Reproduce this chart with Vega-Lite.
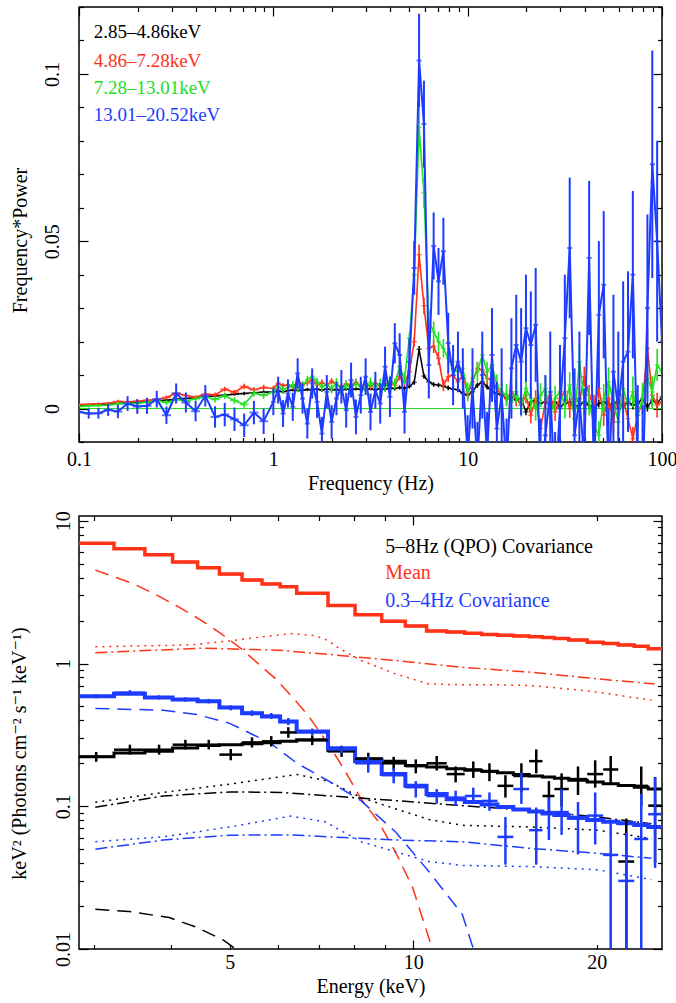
{
"$schema": "https://vega.github.io/schema/vega-lite/v6.json",
"padding": {"left": 8, "top": 5, "right": 0, "bottom": 5},
"config": {
  "font": "Liberation Serif, Times New Roman, DejaVu Serif, serif",
  "view": {"stroke": "#000000", "strokeWidth": 1.5},
  "axis": {"labelFont": "Liberation Serif, Times New Roman, DejaVu Serif, serif", "titleFont": "Liberation Serif, Times New Roman, DejaVu Serif, serif", "labelFontSize": 20, "titleFontSize": 20, "titleFontWeight": "normal", "labelColor": "#000000", "titleColor": "#000000", "tickColor": "#000000", "tickWidth": 1.2, "domain": false, "grid": false}
},
"datasets": {
"pds": [
{"f":0.1,"k":0.0010,"ke":0.0003,"r":0.0012,"re":0.0004,"g":0.0006,"ge":0.0005,"b":-0.0010,"be":0.0015},
{"f":0.1122,"k":0.0011,"ke":0.0003,"r":0.0013,"re":0.0004,"g":0.0008,"ge":0.0005,"b":-0.0015,"be":0.0015},
{"f":0.1259,"k":0.0012,"ke":0.0003,"r":0.0014,"re":0.0004,"g":0.0009,"ge":0.0005,"b":-0.0014,"be":0.0016},
{"f":0.1413,"k":0.0013,"ke":0.0003,"r":0.0016,"re":0.0004,"g":0.0010,"ge":0.0006,"b":-0.0004,"be":0.0018},
{"f":0.1585,"k":0.0015,"ke":0.0003,"r":0.0021,"re":0.0005,"g":0.0014,"ge":0.0006,"b":-0.0009,"be":0.0020},
{"f":0.1778,"k":0.0017,"ke":0.0003,"r":0.0020,"re":0.0005,"g":0.0016,"ge":0.0006,"b":0.0015,"be":0.0022},
{"f":0.1995,"k":0.0018,"ke":0.0003,"r":0.0022,"re":0.0005,"g":0.0015,"ge":0.0007,"b":0.0006,"be":0.0022},
{"f":0.2239,"k":0.0020,"ke":0.0004,"r":0.0025,"re":0.0005,"g":0.0019,"ge":0.0007,"b":0.0008,"be":0.0024},
{"f":0.2512,"k":0.0022,"ke":0.0004,"r":0.0027,"re":0.0005,"g":0.0023,"ge":0.0007,"b":0.0028,"be":0.0025},
{"f":0.2818,"k":0.0025,"ke":0.0004,"r":0.0033,"re":0.0006,"g":0.0018,"ge":0.0008,"b":-0.0020,"be":0.0026},
{"f":0.3162,"k":0.0028,"ke":0.0004,"r":0.0046,"re":0.0006,"g":0.0027,"ge":0.0008,"b":0.0045,"be":0.0030},
{"f":0.3548,"k":0.0030,"ke":0.0004,"r":0.0039,"re":0.0006,"g":0.0022,"ge":0.0008,"b":0.0018,"be":0.0030},
{"f":0.3981,"k":0.0032,"ke":0.0004,"r":0.0034,"re":0.0006,"g":0.0029,"ge":0.0009,"b":-0.0008,"be":0.0030},
{"f":0.4467,"k":0.0035,"ke":0.0004,"r":0.0043,"re":0.0007,"g":0.0035,"ge":0.0009,"b":0.0038,"be":0.0032},
{"f":0.5012,"k":0.0038,"ke":0.0005,"r":0.0041,"re":0.0007,"g":0.0027,"ge":0.0009,"b":-0.0025,"be":0.0032},
{"f":0.5623,"k":0.0040,"ke":0.0005,"r":0.0058,"re":0.0007,"g":0.0038,"ge":0.0010,"b":-0.0018,"be":0.0035},
{"f":0.6310,"k":0.0043,"ke":0.0005,"r":0.0049,"re":0.0007,"g":0.0024,"ge":0.0010,"b":-0.0032,"be":0.0035},
{"f":0.7079,"k":0.0045,"ke":0.0005,"r":0.0066,"re":0.0008,"g":0.0012,"ge":0.0010,"b":-0.0050,"be":0.0035},
{"f":0.7943,"k":0.0047,"ke":0.0005,"r":0.0056,"re":0.0008,"g":0.0046,"ge":0.0010,"b":-0.0012,"be":0.0035},
{"f":0.8913,"k":0.0049,"ke":0.0005,"r":0.0063,"re":0.0008,"g":0.0039,"ge":0.0010,"b":-0.0038,"be":0.0038},
{"f":1.000,"k":0.0050,"ke":0.0005,"r":0.0060,"re":0.0008,"g":0.0050,"ge":0.0010,"b":0.0020,"be":0.0040},
{"f":1.059,"k":0.0052,"ke":0.0005,"r":0.0076,"re":0.0008,"g":0.0066,"ge":0.0010,"b":0.0055,"be":0.0040},
{"f":1.122,"k":0.0050,"ke":0.0005,"r":0.0068,"re":0.0008,"g":0.0056,"ge":0.0011,"b":-0.0015,"be":0.0040},
{"f":1.189,"k":0.0053,"ke":0.0005,"r":0.0071,"re":0.0008,"g":0.0062,"ge":0.0011,"b":0.0045,"be":0.0042},
{"f":1.259,"k":0.0056,"ke":0.0005,"r":0.0064,"re":0.0008,"g":0.0071,"ge":0.0011,"b":0.0005,"be":0.0042},
{"f":1.334,"k":0.0054,"ke":0.0005,"r":0.0081,"re":0.0009,"g":0.0060,"ge":0.0011,"b":0.0105,"be":0.0045},
{"f":1.413,"k":0.0055,"ke":0.0005,"r":0.0072,"re":0.0009,"g":0.0068,"ge":0.0012,"b":0.0030,"be":0.0045},
{"f":1.496,"k":0.0057,"ke":0.0005,"r":0.0077,"re":0.0009,"g":0.0086,"ge":0.0012,"b":-0.0045,"be":0.0045},
{"f":1.585,"k":0.0056,"ke":0.0005,"r":0.0086,"re":0.0009,"g":0.0096,"ge":0.0012,"b":0.0075,"be":0.0045},
{"f":1.679,"k":0.0058,"ke":0.0005,"r":0.0070,"re":0.0009,"g":0.0080,"ge":0.0012,"b":0.0020,"be":0.0048},
{"f":1.778,"k":0.0055,"ke":0.0005,"r":0.0078,"re":0.0009,"g":0.0064,"ge":0.0012,"b":-0.0075,"be":0.0050},
{"f":1.884,"k":0.0059,"ke":0.0005,"r":0.0069,"re":0.0009,"g":0.0072,"ge":0.0013,"b":0.0050,"be":0.0050},
{"f":1.995,"k":0.0056,"ke":0.0005,"r":0.0082,"re":0.0009,"g":0.0059,"ge":0.0013,"b":-0.0040,"be":0.0050},
{"f":2.113,"k":0.0057,"ke":0.0005,"r":0.0070,"re":0.0009,"g":0.0078,"ge":0.0013,"b":0.0030,"be":0.0050},
{"f":2.239,"k":0.0055,"ke":0.0005,"r":0.0064,"re":0.0009,"g":0.0054,"ge":0.0013,"b":0.0065,"be":0.0050},
{"f":2.371,"k":0.0058,"ke":0.0005,"r":0.0074,"re":0.0010,"g":0.0070,"ge":0.0014,"b":-0.0005,"be":0.0052},
{"f":2.512,"k":0.0056,"ke":0.0005,"r":0.0068,"re":0.0010,"g":0.0062,"ge":0.0014,"b":0.0085,"be":0.0052},
{"f":2.661,"k":0.0059,"ke":0.0005,"r":0.0079,"re":0.0010,"g":0.0075,"ge":0.0014,"b":-0.0025,"be":0.0052},
{"f":2.818,"k":0.0057,"ke":0.0005,"r":0.0066,"re":0.0010,"g":0.0065,"ge":0.0014,"b":0.0040,"be":0.0055},
{"f":2.985,"k":0.0058,"ke":0.0005,"r":0.0074,"re":0.0010,"g":0.0058,"ge":0.0015,"b":0.0095,"be":0.0055},
{"f":3.162,"k":0.0059,"ke":0.0005,"r":0.0066,"re":0.0010,"g":0.0078,"ge":0.0015,"b":-0.0010,"be":0.0055},
{"f":3.350,"k":0.0056,"ke":0.0006,"r":0.0076,"re":0.0010,"g":0.0064,"ge":0.0015,"b":0.0055,"be":0.0055},
{"f":3.548,"k":0.0060,"ke":0.0006,"r":0.0069,"re":0.0010,"g":0.0074,"ge":0.0015,"b":0.0015,"be":0.0060},
{"f":3.758,"k":0.0058,"ke":0.0006,"r":0.0072,"re":0.0010,"g":0.0066,"ge":0.0016,"b":0.0125,"be":0.0060},
{"f":3.981,"k":0.0061,"ke":0.0006,"r":0.0080,"re":0.0011,"g":0.0082,"ge":0.0016,"b":0.0035,"be":0.0060},
{"f":4.217,"k":0.0060,"ke":0.0006,"r":0.0070,"re":0.0011,"g":0.0074,"ge":0.0016,"b":0.0195,"be":0.0060},
{"f":4.467,"k":0.0063,"ke":0.0006,"r":0.0095,"re":0.0011,"g":0.0125,"ge":0.0017,"b":0.0160,"be":0.0065},
{"f":4.732,"k":0.0061,"ke":0.0006,"r":0.0078,"re":0.0012,"g":0.0090,"ge":0.0017,"b":-0.0010,"be":0.0065},
{"f":5.012,"k":0.0066,"ke":0.0006,"r":0.0110,"re":0.0012,"g":0.0210,"ge":0.0018,"b":0.0140,"be":0.0070},
{"f":5.309,"k":0.0078,"ke":0.0007,"r":0.0200,"re":0.0015,"g":0.0400,"ge":0.0025,"b":0.0420,"be":0.0080},
{"f":5.623,"k":0.0177,"ke":0.0010,"r":0.0460,"re":0.0030,"g":0.0840,"ge":0.0060,"b":0.1040,"be":0.0140},
{"f":5.957,"k":0.0097,"ke":0.0008,"r":0.0307,"re":0.0025,"g":0.0645,"ge":0.0045,"b":0.0850,"be":0.0130},
{"f":6.310,"k":0.0080,"ke":0.0007,"r":0.0180,"re":0.0020,"g":0.0260,"ge":0.0035,"b":0.0130,"be":0.0100},
{"f":6.683,"k":0.0072,"ke":0.0007,"r":0.0186,"re":0.0020,"g":0.0230,"ge":0.0030,"b":0.0486,"be":0.0100},
{"f":7.079,"k":0.0070,"ke":0.0007,"r":0.0150,"re":0.0020,"g":0.0200,"ge":0.0030,"b":0.0380,"be":0.0100},
{"f":7.499,"k":0.0067,"ke":0.0007,"r":0.0070,"re":0.0018,"g":0.0180,"ge":0.0028,"b":0.0470,"be":0.0100},
{"f":7.943,"k":0.0062,"ke":0.0007,"r":0.0095,"re":0.0016,"g":0.0150,"ge":0.0026,"b":0.0196,"be":0.0090},
{"f":8.414,"k":0.0058,"ke":0.0007,"r":0.0100,"re":0.0016,"g":0.0120,"ge":0.0025,"b":0.0100,"be":0.0090},
{"f":8.913,"k":0.0056,"ke":0.0007,"r":0.0080,"re":0.0016,"g":0.0110,"ge":0.0025,"b":0.0140,"be":0.0090},
{"f":9.441,"k":0.0045,"ke":0.0007,"r":0.0100,"re":0.0016,"g":0.0120,"ge":0.0025,"b":0.0090,"be":0.0090},
{"f":10.00,"k":0.0040,"ke":0.0008,"r":0.0045,"re":0.0018,"g":0.0050,"ge":0.0028,"b":-0.0140,"be":0.0120},
{"f":10.59,"k":0.0050,"ke":0.0008,"r":0.0080,"re":0.0018,"g":0.0090,"ge":0.0028,"b":0.0060,"be":0.0120},
{"f":11.22,"k":0.0070,"ke":0.0008,"r":0.0120,"re":0.0019,"g":0.0110,"ge":0.0030,"b":-0.0160,"be":0.0120},
{"f":11.89,"k":0.0080,"ke":0.0008,"r":0.0115,"re":0.0019,"g":0.0160,"ge":0.0030,"b":0.0100,"be":0.0130},
{"f":12.59,"k":0.0065,"ke":0.0008,"r":0.0090,"re":0.0020,"g":0.0110,"ge":0.0030,"b":-0.0140,"be":0.0130},
{"f":13.34,"k":0.0050,"ke":0.0008,"r":0.0085,"re":0.0020,"g":0.0130,"ge":0.0030,"b":0.0160,"be":0.0140},
{"f":14.13,"k":0.0045,"ke":0.0009,"r":0.0060,"re":0.0020,"g":0.0070,"ge":0.0032,"b":-0.0060,"be":0.0140},
{"f":14.96,"k":0.0040,"ke":0.0009,"r":0.0040,"re":0.0021,"g":0.0050,"ge":0.0032,"b":0.0040,"be":0.0140},
{"f":15.85,"k":0.0030,"ke":0.0009,"r":0.0030,"re":0.0022,"g":0.0040,"ge":0.0033,"b":-0.0180,"be":0.0150},
{"f":16.79,"k":0.0035,"ke":0.0009,"r":0.0050,"re":0.0022,"g":0.0020,"ge":0.0033,"b":0.0120,"be":0.0150},
{"f":17.78,"k":0.0025,"ke":0.0009,"r":0.0030,"re":0.0023,"g":0.0050,"ge":0.0034,"b":0.0190,"be":0.0150},
{"f":18.84,"k":0.0030,"ke":0.0010,"r":0.0010,"re":0.0023,"g":0.0010,"ge":0.0034,"b":0.0140,"be":0.0160},
{"f":19.95,"k":-0.0010,"ke":0.0010,"r":0.0040,"re":0.0024,"g":0.0060,"ge":0.0035,"b":0.0240,"be":0.0160},
{"f":21.13,"k":0.0020,"ke":0.0010,"r":-0.0020,"re":0.0024,"g":0.0030,"ge":0.0035,"b":0.0190,"be":0.0160},
{"f":22.39,"k":0.0025,"ke":0.0010,"r":0.0030,"re":0.0025,"g":0.0000,"ge":0.0036,"b":0.0250,"be":0.0170},
{"f":23.71,"k":0.0015,"ke":0.0010,"r":-0.0060,"re":0.0025,"g":0.0040,"ge":0.0036,"b":-0.0200,"be":0.0170},
{"f":25.12,"k":0.0020,"ke":0.0010,"r":0.0020,"re":0.0026,"g":0.0060,"ge":0.0037,"b":-0.0080,"be":0.0180},
{"f":26.61,"k":0.0010,"ke":0.0010,"r":0.0040,"re":0.0026,"g":-0.0020,"ge":0.0037,"b":0.0050,"be":0.0180},
{"f":28.18,"k":0.0020,"ke":0.0011,"r":-0.0010,"re":0.0027,"g":0.0030,"ge":0.0038,"b":-0.0250,"be":0.0180},
{"f":29.85,"k":0.0005,"ke":0.0011,"r":0.0030,"re":0.0027,"g":0.0050,"ge":0.0038,"b":0.0000,"be":0.0190},
{"f":31.62,"k":0.0015,"ke":0.0011,"r":0.0050,"re":0.0028,"g":0.0010,"ge":0.0039,"b":0.0210,"be":0.0190},
{"f":33.50,"k":0.0020,"ke":0.0011,"r":0.0000,"re":0.0028,"g":0.0070,"ge":0.0039,"b":0.0480,"be":0.0210},
{"f":35.48,"k":0.0005,"ke":0.0011,"r":0.0030,"re":0.0029,"g":-0.0030,"ge":0.0040,"b":-0.0080,"be":0.0200},
{"f":37.58,"k":0.0010,"ke":0.0011,"r":0.0020,"re":0.0029,"g":0.0140,"ge":0.0050,"b":0.0030,"be":0.0200},
{"f":39.81,"k":0.0020,"ke":0.0012,"r":0.0095,"re":0.0030,"g":0.0020,"ge":0.0041,"b":-0.0150,"be":0.0210},
{"f":42.17,"k":0.0010,"ke":0.0012,"r":0.0040,"re":0.0030,"g":0.0020,"ge":0.0041,"b":0.0450,"be":0.0230},
{"f":44.67,"k":0.0000,"ke":0.0012,"r":0.0010,"re":0.0031,"g":-0.0050,"ge":0.0042,"b":-0.0200,"be":0.0210},
{"f":47.32,"k":0.0015,"ke":0.0012,"r":0.0060,"re":0.0031,"g":-0.0080,"ge":0.0042,"b":0.0280,"be":0.0220},
{"f":50.12,"k":0.0020,"ke":0.0012,"r":-0.0020,"re":0.0032,"g":0.0030,"ge":0.0043,"b":0.0370,"be":0.0220},
{"f":53.09,"k":0.0010,"ke":0.0012,"r":0.0030,"re":0.0032,"g":0.0080,"ge":0.0043,"b":-0.0220,"be":0.0220},
{"f":56.23,"k":0.0015,"ke":0.0013,"r":-0.0040,"re":0.0033,"g":0.0020,"ge":0.0044,"b":0.0110,"be":0.0230},
{"f":59.57,"k":0.0025,"ke":0.0013,"r":0.0050,"re":0.0033,"g":-0.0040,"ge":0.0044,"b":0.0000,"be":0.0230},
{"f":63.10,"k":0.0005,"ke":0.0013,"r":0.0030,"re":0.0034,"g":0.0060,"ge":0.0045,"b":0.0140,"be":0.0240},
{"f":66.83,"k":0.0020,"ke":0.0013,"r":-0.0030,"re":0.0034,"g":0.0010,"ge":0.0045,"b":0.0170,"be":0.0240},
{"f":70.79,"k":0.0010,"ke":0.0013,"r":-0.0090,"re":0.0035,"g":0.0050,"ge":0.0046,"b":0.0400,"be":0.0250},
{"f":74.99,"k":0.0015,"ke":0.0014,"r":-0.0020,"re":0.0035,"g":-0.0020,"ge":0.0046,"b":-0.0180,"be":0.0250},
{"f":79.43,"k":0.0030,"ke":0.0014,"r":0.0020,"re":0.0036,"g":0.0030,"ge":0.0047,"b":-0.0250,"be":0.0260},
{"f":84.14,"k":0.0005,"ke":0.0014,"r":0.0180,"re":0.0060,"g":0.0090,"ge":0.0047,"b":0.0300,"be":0.0280},
{"f":89.13,"k":0.0025,"ke":0.0014,"r":0.0040,"re":0.0037,"g":0.0050,"ge":0.0048,"b":0.0730,"be":0.0340},
{"f":94.41,"k":0.0015,"ke":0.0015,"r":0.0010,"re":0.0037,"g":0.0130,"ge":0.0048,"b":0.0500,"be":0.0300},
{"f":100.0,"k":0.0035,"ke":0.0015,"r":0.0020,"re":0.0038,"g":0.0110,"ge":0.0049,"b":0.0200,"be":0.0300}
],
"leg1": [
{"t":"2.85–4.86keV","f":0.119,"p":0.1124},
{"t":"4.86–7.28keV","f":0.119,"p":0.1040},
{"t":"7.28–13.01keV","f":0.119,"p":0.0959},
{"t":"13.01–20.52keV","f":0.119,"p":0.0878}
],
"spec": [
{"s":"q","lo":2.83,"hi":3.23,"E":3.02,"m":0.222,"d":0.222,"dl":0.205,"dh":0.24},
{"s":"q","lo":3.23,"hi":3.63,"E":3.43,"m":0.236,"d":0.249,"dl":0.23,"dh":0.27},
{"s":"q","lo":3.63,"hi":4.03,"E":3.83,"m":0.243,"d":0.249,"dl":0.23,"dh":0.27},
{"s":"q","lo":4.03,"hi":4.43,"E":4.23,"m":0.256,"d":0.27,"dl":0.25,"dh":0.292},
{"s":"q","lo":4.43,"hi":4.81,"E":4.62,"m":0.266,"d":0.27,"dl":0.25,"dh":0.292},
{"s":"q","lo":4.81,"hi":5.24,"E":5.02,"m":0.27,"d":0.23,"dl":0.21,"dh":0.252},
{"s":"q","lo":5.24,"hi":5.65,"E":5.44,"m":0.274,"d":0.28,"dl":0.258,"dh":0.304},
{"s":"q","lo":5.65,"hi":6.05,"E":5.85,"m":0.278,"d":0.285,"dl":0.262,"dh":0.31},
{"s":"q","lo":6.05,"hi":6.44,"E":6.24,"m":0.285,"d":0.329,"dl":0.302,"dh":0.358},
{"s":"q","lo":6.44,"hi":7.25,"E":6.83,"m":0.292,"d":0.29,"dl":0.268,"dh":0.314},
{"s":"q","lo":7.25,"hi":8.03,"E":7.63,"m":0.245,"d":0.243,"dl":0.222,"dh":0.265},
{"s":"q","lo":8.03,"hi":8.88,"E":8.44,"m":0.215,"d":0.215,"dl":0.195,"dh":0.237},
{"s":"q","lo":8.88,"hi":9.71,"E":9.29,"m":0.207,"d":0.2,"dl":0.18,"dh":0.222},
{"s":"q","lo":9.71,"hi":10.52,"E":10.1,"m":0.193,"d":0.191,"dl":0.17,"dh":0.213},
{"s":"q","lo":10.52,"hi":11.35,"E":10.93,"m":0.188,"d":0.2,"dl":0.178,"dh":0.225},
{"s":"q","lo":11.35,"hi":12.15,"E":11.74,"m":0.183,"d":0.168,"dl":0.147,"dh":0.19},
{"s":"q","lo":12.15,"hi":12.95,"E":12.55,"m":0.179,"d":0.181,"dl":0.158,"dh":0.206},
{"s":"q","lo":12.95,"hi":13.75,"E":13.34,"m":0.176,"d":0.175,"dl":0.15,"dh":0.2},
{"s":"q","lo":13.75,"hi":14.6,"E":14.17,"m":0.172,"d":0.139,"dl":0.115,"dh":0.165},
{"s":"q","lo":14.6,"hi":15.5,"E":15.05,"m":0.167,"d":0.163,"dl":0.125,"dh":0.2},
{"s":"q","lo":15.5,"hi":16.3,"E":15.92,"m":0.163,"d":0.207,"dl":0.17,"dh":0.25},
{"s":"q","lo":16.3,"hi":17.05,"E":16.7,"m":0.16,"d":0.118,"dl":0.09,"dh":0.15},
{"s":"q","lo":17.05,"hi":18.0,"E":17.52,"m":0.157,"d":0.132,"dl":0.1,"dh":0.17},
{"s":"q","lo":18.0,"hi":19.3,"E":18.64,"m":0.152,"d":0.155,"dl":0.12,"dh":0.19},
{"s":"q","lo":19.3,"hi":20.5,"E":19.89,"m":0.148,"d":0.168,"dl":0.135,"dh":0.21},
{"s":"q","lo":20.5,"hi":21.7,"E":21.09,"m":0.144,"d":0.181,"dl":0.145,"dh":0.225},
{"s":"q","lo":21.7,"hi":23.05,"E":22.37,"m":0.14,"d":0.041,"dl":0.002,"dh":0.082},
{"s":"q","lo":23.05,"hi":24.3,"E":23.67,"m":0.136,"d":0.139,"dl":0.1,"dh":0.19},
{"s":"q","lo":24.3,"hi":25.6,"E":24.94,"m":0.132,"d":0.101,"dl":0.04,"dh":0.16},
{"s":"q","lo":25.6,"m":0.132},
{"s":"m","lo":2.83,"hi":3.23,"E":3.02,"m":6.97,"d":6.97,"dl":6.83,"dh":7.11},
{"s":"m","lo":3.23,"hi":3.63,"E":3.43,"m":6.37,"d":6.37,"dl":6.24,"dh":6.5},
{"s":"m","lo":3.63,"hi":4.03,"E":3.83,"m":5.79,"d":5.79,"dl":5.67,"dh":5.91},
{"s":"m","lo":4.03,"hi":4.43,"E":4.23,"m":5.14,"d":5.14,"dl":5.04,"dh":5.24},
{"s":"m","lo":4.43,"hi":4.81,"E":4.62,"m":4.68,"d":4.68,"dl":4.59,"dh":4.77},
{"s":"m","lo":4.81,"hi":5.24,"E":5.02,"m":4.23,"d":4.23,"dl":4.15,"dh":4.31},
{"s":"m","lo":5.24,"hi":5.65,"E":5.44,"m":3.84,"d":3.84,"dl":3.76,"dh":3.92},
{"s":"m","lo":5.65,"hi":6.05,"E":5.85,"m":3.61,"d":3.61,"dl":3.54,"dh":3.68},
{"s":"m","lo":6.05,"hi":6.44,"E":6.24,"m":3.45,"d":3.45,"dl":3.38,"dh":3.52},
{"s":"m","lo":6.44,"hi":7.25,"E":6.83,"m":3.11,"d":3.11,"dl":3.05,"dh":3.17},
{"s":"m","lo":7.25,"hi":8.03,"E":7.63,"m":2.55,"d":2.55,"dl":2.5,"dh":2.6},
{"s":"m","lo":8.03,"hi":8.88,"E":8.44,"m":2.2,"d":2.2,"dl":2.16,"dh":2.24},
{"s":"m","lo":8.88,"hi":9.71,"E":9.29,"m":1.98,"d":1.98,"dl":1.94,"dh":2.02},
{"s":"m","lo":9.71,"hi":10.52,"E":10.1,"m":1.83,"d":1.83,"dl":1.79,"dh":1.87},
{"s":"m","lo":10.52,"hi":11.35,"E":10.93,"m":1.69,"d":1.69,"dl":1.66,"dh":1.72},
{"s":"m","lo":11.35,"hi":12.15,"E":11.74,"m":1.66,"d":1.66,"dl":1.63,"dh":1.69},
{"s":"m","lo":12.15,"hi":12.95,"E":12.55,"m":1.63,"d":1.63,"dl":1.6,"dh":1.66},
{"s":"m","lo":12.95,"hi":13.75,"E":13.34,"m":1.6,"d":1.6,"dl":1.57,"dh":1.63},
{"s":"m","lo":13.75,"hi":14.6,"E":14.17,"m":1.58,"d":1.58,"dl":1.55,"dh":1.61},
{"s":"m","lo":14.6,"hi":15.5,"E":15.05,"m":1.56,"d":1.56,"dl":1.53,"dh":1.59},
{"s":"m","lo":15.5,"hi":16.3,"E":15.92,"m":1.54,"d":1.54,"dl":1.51,"dh":1.57},
{"s":"m","lo":16.3,"hi":17.05,"E":16.7,"m":1.52,"d":1.52,"dl":1.49,"dh":1.55},
{"s":"m","lo":17.05,"hi":18.0,"E":17.52,"m":1.5,"d":1.5,"dl":1.47,"dh":1.53},
{"s":"m","lo":18.0,"hi":19.3,"E":18.64,"m":1.46,"d":1.46,"dl":1.43,"dh":1.49},
{"s":"m","lo":19.3,"hi":20.5,"E":19.89,"m":1.41,"d":1.41,"dl":1.38,"dh":1.44},
{"s":"m","lo":20.5,"hi":21.7,"E":21.09,"m":1.38,"d":1.38,"dl":1.35,"dh":1.41},
{"s":"m","lo":21.7,"hi":23.05,"E":22.37,"m":1.35,"d":1.35,"dl":1.32,"dh":1.38},
{"s":"m","lo":23.05,"hi":24.3,"E":23.67,"m":1.32,"d":1.32,"dl":1.29,"dh":1.35},
{"s":"m","lo":24.3,"hi":25.6,"E":24.94,"m":1.27,"d":1.27,"dl":1.24,"dh":1.3},
{"s":"m","lo":25.6,"m":1.27},
{"s":"l","lo":2.83,"hi":3.23,"E":3.02,"m":0.589,"d":0.59,"dl":0.57,"dh":0.61},
{"s":"l","lo":3.23,"hi":3.63,"E":3.43,"m":0.615,"d":0.625,"dl":0.6,"dh":0.65},
{"s":"l","lo":3.63,"hi":4.03,"E":3.83,"m":0.577,"d":0.58,"dl":0.56,"dh":0.6},
{"s":"l","lo":4.03,"hi":4.43,"E":4.23,"m":0.559,"d":0.56,"dl":0.54,"dh":0.58},
{"s":"l","lo":4.43,"hi":4.81,"E":4.62,"m":0.545,"d":0.545,"dl":0.525,"dh":0.565},
{"s":"l","lo":4.81,"hi":5.24,"E":5.02,"m":0.492,"d":0.49,"dl":0.47,"dh":0.51},
{"s":"l","lo":5.24,"hi":5.65,"E":5.44,"m":0.448,"d":0.45,"dl":0.43,"dh":0.47},
{"s":"l","lo":5.65,"hi":6.05,"E":5.85,"m":0.425,"d":0.43,"dl":0.41,"dh":0.45},
{"s":"l","lo":6.05,"hi":6.44,"E":6.24,"m":0.392,"d":0.39,"dl":0.37,"dh":0.415},
{"s":"l","lo":6.44,"hi":7.25,"E":6.83,"m":0.334,"d":0.33,"dl":0.315,"dh":0.35},
{"s":"l","lo":7.25,"hi":8.03,"E":7.63,"m":0.255,"d":0.25,"dl":0.235,"dh":0.265},
{"s":"l","lo":8.03,"hi":8.88,"E":8.44,"m":0.207,"d":0.2,"dl":0.172,"dh":0.224},
{"s":"l","lo":8.88,"hi":9.71,"E":9.29,"m":0.168,"d":0.165,"dl":0.145,"dh":0.185},
{"s":"l","lo":9.71,"hi":10.52,"E":10.1,"m":0.139,"d":0.136,"dl":0.115,"dh":0.15},
{"s":"l","lo":10.52,"hi":11.35,"E":10.93,"m":0.122,"d":0.118,"dl":0.104,"dh":0.132},
{"s":"l","lo":11.35,"hi":12.15,"E":11.74,"m":0.112,"d":0.115,"dl":0.101,"dh":0.1285},
{"s":"l","lo":12.15,"hi":12.95,"E":12.55,"m":0.107,"d":0.118,"dl":0.104,"dh":0.135},
{"s":"l","lo":12.95,"hi":13.75,"E":13.34,"m":0.103,"d":0.109,"dl":0.093,"dh":0.125},
{"s":"l","lo":13.75,"hi":14.6,"E":14.17,"m":0.099,"d":0.061,"dl":0.039,"dh":0.084},
{"s":"l","lo":14.6,"hi":15.5,"E":15.05,"m":0.095,"d":0.132,"dl":0.104,"dh":0.172},
{"s":"l","lo":15.5,"hi":16.3,"E":15.92,"m":0.092,"d":0.068,"dl":0.039,"dh":0.098},
{"s":"l","lo":16.3,"hi":17.05,"E":16.7,"m":0.089,"d":0.091,"dl":0.058,"dh":0.115},
{"s":"l","lo":17.05,"hi":18.0,"E":17.52,"m":0.087,"d":0.091,"dl":0.063,"dh":0.132},
{"s":"l","lo":18.0,"hi":19.3,"E":18.64,"m":0.083,"d":0.082,"dl":0.046,"dh":0.107},
{"s":"l","lo":19.3,"hi":20.5,"E":19.89,"m":0.08,"d":0.086,"dl":0.054,"dh":0.125},
{"s":"l","lo":20.5,"hi":21.7,"E":21.09,"m":0.078,"d":0.0456,"dl":0.002,"dh":0.08},
{"s":"l","lo":21.7,"hi":23.05,"E":22.37,"m":0.076,"d":0.03,"dl":0.002,"dh":0.065},
{"s":"l","lo":23.05,"hi":24.3,"E":23.67,"m":0.074,"d":0.059,"dl":0.002,"dh":0.122},
{"s":"l","lo":24.3,"hi":25.6,"E":24.94,"m":0.0716,"d":0.088,"dl":0.037,"dh":0.159},
{"s":"l","lo":25.6,"m":0.0716}
],
"comp": [
{"s":"m","c":"dash","E":3.01,"v":4.51},{"s":"m","c":"dash","E":3.46,"v":3.65},{"s":"m","c":"dash","E":3.79,"v":3.03},{"s":"m","c":"dash","E":4.11,"v":2.51},{"s":"m","c":"dash","E":4.47,"v":2.03},{"s":"m","c":"dash","E":4.82,"v":1.64},{"s":"m","c":"dash","E":5.2,"v":1.29},{"s":"m","c":"dash","E":5.58,"v":0.99},{"s":"m","c":"dash","E":5.95,"v":0.78},{"s":"m","c":"dash","E":6.34,"v":0.58},{"s":"m","c":"dash","E":6.72,"v":0.435},{"s":"m","c":"dash","E":7.11,"v":0.308},{"s":"m","c":"dash","E":7.6,"v":0.2},{"s":"m","c":"dash","E":8.22,"v":0.112},{"s":"m","c":"dash","E":8.77,"v":0.078},{"s":"m","c":"dash","E":9.35,"v":0.048},{"s":"m","c":"dash","E":9.98,"v":0.027},{"s":"m","c":"dash","E":10.6,"v":0.0121},{"s":"m","c":"dash","E":10.8,"v":0.0095},
{"s":"m","c":"dot","E":3.01,"v":1.31},{"s":"m","c":"dot","E":4.0,"v":1.34},{"s":"m","c":"dot","E":4.41,"v":1.36},{"s":"m","c":"dot","E":5.0,"v":1.44},{"s":"m","c":"dot","E":5.6,"v":1.53},{"s":"m","c":"dot","E":6.29,"v":1.62},{"s":"m","c":"dot","E":6.9,"v":1.57},{"s":"m","c":"dot","E":7.25,"v":1.45},{"s":"m","c":"dot","E":7.53,"v":1.29},{"s":"m","c":"dot","E":8.22,"v":1.05},{"s":"m","c":"dot","E":9.36,"v":0.846},{"s":"m","c":"dot","E":10.6,"v":0.72},{"s":"m","c":"dot","E":12.0,"v":0.71},{"s":"m","c":"dot","E":13.7,"v":0.71},{"s":"m","c":"dot","E":15.6,"v":0.7},{"s":"m","c":"dot","E":17.7,"v":0.667},{"s":"m","c":"dot","E":20.1,"v":0.63},{"s":"m","c":"dot","E":24.6,"v":0.553},
{"s":"m","c":"dd","E":3.01,"v":1.19},{"s":"m","c":"dd","E":4.5,"v":1.28},{"s":"m","c":"dd","E":6.0,"v":1.24},{"s":"m","c":"dd","E":7.25,"v":1.16},{"s":"m","c":"dd","E":9.36,"v":1.05},{"s":"m","c":"dd","E":12.04,"v":0.94},{"s":"m","c":"dd","E":15.56,"v":0.87},{"s":"m","c":"dd","E":20.1,"v":0.78},{"s":"m","c":"dd","E":24.9,"v":0.72},
{"s":"q","c":"dash","E":3.01,"v":0.019},{"s":"q","c":"dash","E":3.42,"v":0.0183},{"s":"q","c":"dash","E":3.98,"v":0.0166},{"s":"q","c":"dash","E":4.41,"v":0.0142},{"s":"q","c":"dash","E":4.89,"v":0.0115},{"s":"q","c":"dash","E":5.1,"v":0.0101},{"s":"q","c":"dash","E":5.3,"v":0.0088},
{"s":"q","c":"dot","E":3.01,"v":0.1066},{"s":"q","c":"dot","E":3.89,"v":0.125},{"s":"q","c":"dot","E":5.0,"v":0.143},{"s":"q","c":"dot","E":6.45,"v":0.167},{"s":"q","c":"dot","E":7.25,"v":0.15},{"s":"q","c":"dot","E":8.22,"v":0.115},{"s":"q","c":"dot","E":9.36,"v":0.0958},{"s":"q","c":"dot","E":10.61,"v":0.0809},{"s":"q","c":"dot","E":12.04,"v":0.0735},{"s":"q","c":"dot","E":15.56,"v":0.0716},{"s":"q","c":"dot","E":20.1,"v":0.068},{"s":"q","c":"dot","E":24.6,"v":0.0594},
{"s":"q","c":"dd","E":3.01,"v":0.0984},{"s":"q","c":"dd","E":3.89,"v":0.118},{"s":"q","c":"dd","E":5.0,"v":0.126},{"s":"q","c":"dd","E":6.06,"v":0.125},{"s":"q","c":"dd","E":7.33,"v":0.118},{"s":"q","c":"dd","E":9.36,"v":0.1095},{"s":"q","c":"dd","E":12.04,"v":0.101},{"s":"q","c":"dd","E":15.56,"v":0.0934},{"s":"q","c":"dd","E":20.1,"v":0.084},{"s":"q","c":"dd","E":24.6,"v":0.0755},
{"s":"l","c":"dash","E":3.01,"v":0.484},{"s":"l","c":"dash","E":3.89,"v":0.471},{"s":"l","c":"dash","E":4.41,"v":0.44},{"s":"l","c":"dash","E":5.0,"v":0.381},{"s":"l","c":"dash","E":5.83,"v":0.277},{"s":"l","c":"dash","E":6.45,"v":0.2},{"s":"l","c":"dash","E":7.33,"v":0.147},{"s":"l","c":"dash","E":8.22,"v":0.109},{"s":"l","c":"dash","E":9.36,"v":0.066},{"s":"l","c":"dash","E":10.61,"v":0.0349},{"s":"l","c":"dash","E":12.04,"v":0.0175},{"s":"l","c":"dash","E":12.5,"v":0.0106},{"s":"l","c":"dash","E":12.7,"v":0.0092},
{"s":"l","c":"dot","E":3.01,"v":0.0564},{"s":"l","c":"dot","E":3.89,"v":0.061},{"s":"l","c":"dot","E":5.0,"v":0.0716},{"s":"l","c":"dot","E":6.29,"v":0.0853},{"s":"l","c":"dot","E":7.16,"v":0.078},{"s":"l","c":"dot","E":8.22,"v":0.0564},{"s":"l","c":"dot","E":9.36,"v":0.048},{"s":"l","c":"dot","E":10.61,"v":0.041},{"s":"l","c":"dot","E":12.04,"v":0.0385},{"s":"l","c":"dot","E":15.56,"v":0.0378},{"s":"l","c":"dot","E":20.1,"v":0.0359},{"s":"l","c":"dot","E":24.6,"v":0.0306},
{"s":"l","c":"dd","E":3.01,"v":0.05},{"s":"l","c":"dd","E":3.89,"v":0.058},{"s":"l","c":"dd","E":5.0,"v":0.0627},{"s":"l","c":"dd","E":6.29,"v":0.063},{"s":"l","c":"dd","E":7.33,"v":0.061},{"s":"l","c":"dd","E":9.36,"v":0.058},{"s":"l","c":"dd","E":12.04,"v":0.0564},{"s":"l","c":"dd","E":15.56,"v":0.0507},{"s":"l","c":"dd","E":20.1,"v":0.0468},{"s":"l","c":"dd","E":24.6,"v":0.0432}
],
"leg2": [
{"s":"q","t":"5–8Hz (QPO) Covariance","E":9.0,"v":6.53},
{"s":"m","t":"Mean","E":9.0,"v":4.30},
{"s":"l","t":"0.3–4Hz Covariance","E":9.0,"v":2.75}
]
},
"spacing": 16,
"align": "none",
"resolve": {"scale": {"color": "independent"}},
"vconcat": [
{
"width": 583, "height": 435,
"data": {"name": "pds"},
"resolve": {"axis": {"x": "independent", "y": "independent"}},
"layer": [
{"data": {"values": [{}]}, "mark": {"type": "rule", "color": "#22dd22", "strokeWidth": 1},
 "encoding": {"y": {"datum": 0, "type": "quantitative", "scale": {"domain": [-0.01, 0.12], "nice": false, "zero": false}, "axis": null}}},
{"mark": {"type": "line", "color": "#000000", "strokeWidth": 1.5, "clip": true},
 "encoding": {
  "x": {"field": "f", "type": "quantitative", "scale": {"type": "log", "domain": [0.1, 100], "nice": false},
        "axis": {"orient": "bottom", "values": [0.1,0.2,0.3,0.4,0.5,0.6,0.7,0.8,0.9,1,2,3,4,5,6,7,8,9,10,20,30,40,50,60,70,80,90,100], "labels": false, "title": null,
                 "tickSize": {"condition": {"test": "datum.value==0.1||datum.value==1||datum.value==10||datum.value==100", "value": -9}, "value": -4.5}}},
  "y": {"field": "k", "type": "quantitative", "scale": {"domain": [-0.01, 0.12], "nice": false, "zero": false},
        "axis": {"orient": "left", "values": [-0.01,0,0.01,0.02,0.03,0.04,0.05,0.06,0.07,0.08,0.09,0.1,0.11,0.12], "labels": false, "title": null,
                 "tickSize": {"condition": {"test": "datum.value==0||datum.value==0.05||datum.value==0.1", "value": -9}, "value": -4.5}}}}},
{"mark": {"type": "errorbar", "color": "#000000", "thickness": 1.5, "clip": true},
 "encoding": {"x": {"field": "f", "type": "quantitative", "scale": {"type": "log", "domain": [0.1, 100], "nice": false}, "axis": null},
  "y": {"field": "k", "type": "quantitative", "scale": {"domain": [-0.01, 0.12], "nice": false, "zero": false}, "axis": null}, "yError": {"field": "ke"}}},
{"mark": {"type": "tick", "orient": "horizontal", "color": "#000000", "thickness": 1.5, "clip": true},
 "encoding": {
  "x": {"field": "f", "type": "quantitative", "scale": {"type": "log", "domain": [0.1, 100], "nice": false},
        "axis": {"orient": "top", "values": [0.1,0.2,0.3,0.4,0.5,0.6,0.7,0.8,0.9,1,2,3,4,5,6,7,8,9,10,20,30,40,50,60,70,80,90,100], "labels": false, "title": null,
                 "tickSize": {"condition": {"test": "datum.value==0.1||datum.value==1||datum.value==10||datum.value==100", "value": -9}, "value": -4.5}}},
  "y": {"field": "k", "type": "quantitative", "scale": {"domain": [-0.01, 0.12], "nice": false, "zero": false},
        "axis": {"orient": "right", "values": [-0.01,0,0.01,0.02,0.03,0.04,0.05,0.06,0.07,0.08,0.09,0.1,0.11,0.12], "labels": false, "title": null,
                 "tickSize": {"condition": {"test": "datum.value==0||datum.value==0.05||datum.value==0.1", "value": -9}, "value": -4.5}}},
  "size": {"condition": {"test": "datum.f < 1", "value": 9}, "value": 5}}},
{"mark": {"type": "line", "color": "#ff3318", "strokeWidth": 1.6, "clip": true},
 "encoding": {"x": {"field": "f", "type": "quantitative", "scale": {"type": "log", "domain": [0.1, 100], "nice": false}, "axis": null},
  "y": {"field": "r", "type": "quantitative", "scale": {"domain": [-0.01, 0.12], "nice": false, "zero": false}, "axis": null}}},
{"mark": {"type": "errorbar", "color": "#ff3318", "thickness": 1.6, "clip": true},
 "encoding": {"x": {"field": "f", "type": "quantitative", "scale": {"type": "log", "domain": [0.1, 100], "nice": false}, "axis": null},
  "y": {"field": "r", "type": "quantitative", "scale": {"domain": [-0.01, 0.12], "nice": false, "zero": false}, "axis": null}, "yError": {"field": "re"}}},
{"mark": {"type": "tick", "orient": "horizontal", "color": "#ff3318", "thickness": 1.6, "clip": true},
 "encoding": {"x": {"field": "f", "type": "quantitative", "scale": {"type": "log", "domain": [0.1, 100], "nice": false}, "axis": null},
  "y": {"field": "r", "type": "quantitative", "scale": {"domain": [-0.01, 0.12], "nice": false, "zero": false}, "axis": null},
  "size": {"condition": {"test": "datum.f < 1", "value": 9}, "value": 5}}},
{"mark": {"type": "line", "color": "#22e022", "strokeWidth": 1.6, "clip": true},
 "encoding": {"x": {"field": "f", "type": "quantitative", "scale": {"type": "log", "domain": [0.1, 100], "nice": false}, "axis": null},
  "y": {"field": "g", "type": "quantitative", "scale": {"domain": [-0.01, 0.12], "nice": false, "zero": false}, "axis": null}}},
{"mark": {"type": "errorbar", "color": "#22e022", "thickness": 1.6, "clip": true},
 "encoding": {"x": {"field": "f", "type": "quantitative", "scale": {"type": "log", "domain": [0.1, 100], "nice": false}, "axis": null},
  "y": {"field": "g", "type": "quantitative", "scale": {"domain": [-0.01, 0.12], "nice": false, "zero": false}, "axis": null}, "yError": {"field": "ge"}}},
{"mark": {"type": "tick", "orient": "horizontal", "color": "#22e022", "thickness": 1.6, "clip": true},
 "encoding": {"x": {"field": "f", "type": "quantitative", "scale": {"type": "log", "domain": [0.1, 100], "nice": false}, "axis": null},
  "y": {"field": "g", "type": "quantitative", "scale": {"domain": [-0.01, 0.12], "nice": false, "zero": false}, "axis": null},
  "size": {"condition": {"test": "datum.f < 1", "value": 9}, "value": 5}}},
{"mark": {"type": "line", "color": "#1d3cff", "strokeWidth": 2, "clip": true},
 "encoding": {"x": {"field": "f", "type": "quantitative", "scale": {"type": "log", "domain": [0.1, 100], "nice": false}, "axis": null},
  "y": {"field": "b", "type": "quantitative", "scale": {"domain": [-0.01, 0.12], "nice": false, "zero": false}, "axis": null}}},
{"mark": {"type": "errorbar", "color": "#1d3cff", "thickness": 2, "clip": true},
 "encoding": {"x": {"field": "f", "type": "quantitative", "scale": {"type": "log", "domain": [0.1, 100], "nice": false}, "axis": null},
  "y": {"field": "b", "type": "quantitative", "scale": {"domain": [-0.01, 0.12], "nice": false, "zero": false}, "axis": null}, "yError": {"field": "be"}}},
{"mark": {"type": "tick", "orient": "horizontal", "color": "#1d3cff", "thickness": 2, "clip": true},
 "encoding": {"x": {"field": "f", "type": "quantitative", "scale": {"type": "log", "domain": [0.1, 100], "nice": false}, "axis": null},
  "y": {"field": "b", "type": "quantitative", "scale": {"domain": [-0.01, 0.12], "nice": false, "zero": false}, "axis": null},
  "size": {"condition": {"test": "datum.f < 1", "value": 9}, "value": 5}}},
{"data": {"name": "leg1"},
 "mark": {"type": "text", "align": "left", "baseline": "middle", "font": "Liberation Serif, Times New Roman, DejaVu Serif, serif", "fontSize": 19},
 "encoding": {
  "x": {"field": "f", "type": "quantitative", "scale": {"type": "log", "domain": [0.1, 100], "nice": false},
        "axis": {"orient": "bottom", "values": [0.1, 1, 10, 100], "ticks": false, "format": "~g", "labelPadding": 7, "labelFlush": false, "labelOverlap": false, "title": "Frequency (Hz)", "titlePadding": 4}},
  "y": {"field": "p", "type": "quantitative", "scale": {"domain": [-0.01, 0.12], "nice": false, "zero": false},
        "axis": {"orient": "left", "values": [0, 0.05, 0.1], "ticks": false, "format": "~g", "labelAngle": -90, "labelAlign": "center", "labelBaseline": "bottom", "labelPadding": 16.5, "labelFlush": false, "labelOverlap": false, "title": "Frequency*Power", "titlePadding": 12.5, "titleY": 233}},
  "text": {"field": "t"},
  "color": {"field": "t", "type": "nominal", "scale": {"domain": ["2.85–4.86keV", "4.86–7.28keV", "7.28–13.01keV", "13.01–20.52keV"], "range": ["#000000", "#ff3318", "#22e022", "#1d3cff"]}, "legend": null}}}
]
},
{
"width": 583, "height": 433,
"resolve": {"axis": {"x": "independent", "y": "independent"}},
"layer": [
{"data": {"name": "comp"},
 "mark": {"type": "line", "strokeWidth": 1.5, "clip": true},
 "encoding": {
  "x": {"field": "E", "type": "quantitative", "scale": {"type": "log", "domain": [2.83, 25.6], "nice": false},
        "axis": {"orient": "bottom", "values": [3,4,5,6,7,8,9,10,20], "labels": false, "title": null,
                 "tickSize": {"condition": {"test": "datum.value==10", "value": -9}, "value": -4.5}}},
  "y": {"field": "v", "type": "quantitative", "scale": {"type": "log", "domain": [0.01, 10.8], "nice": false},
        "axis": {"orient": "left", "values": [0.01,0.02,0.03,0.04,0.05,0.06,0.07,0.08,0.09,0.1,0.2,0.3,0.4,0.5,0.6,0.7,0.8,0.9,1,2,3,4,5,6,7,8,9,10], "labels": false, "title": null,
                 "tickSize": {"condition": {"test": "datum.value==0.01||datum.value==0.1||datum.value==1||datum.value==10", "value": -9}, "value": -4.5}}},
  "color": {"field": "s", "type": "nominal", "scale": {"domain": ["q", "m", "l"], "range": ["#000000", "#ff3318", "#1d3cff"]}, "legend": null},
  "strokeDash": {"field": "c", "type": "nominal", "scale": {"domain": ["dash", "dot", "dd"], "range": [[14, 8], [2, 5], [12, 4, 2, 4]]}, "legend": null}}},
{"data": {"name": "spec"},
 "mark": {"type": "line", "interpolate": "step-after", "clip": true},
 "encoding": {
  "x": {"field": "lo", "type": "quantitative", "scale": {"type": "log", "domain": [2.83, 25.6], "nice": false},
        "axis": {"orient": "top", "values": [3,4,5,6,7,8,9,10,20], "labels": false, "title": null,
                 "tickSize": {"condition": {"test": "datum.value==10", "value": -9}, "value": -4.5}}},
  "y": {"field": "m", "type": "quantitative", "scale": {"type": "log", "domain": [0.01, 10.8], "nice": false},
        "axis": {"orient": "right", "values": [0.01,0.02,0.03,0.04,0.05,0.06,0.07,0.08,0.09,0.1,0.2,0.3,0.4,0.5,0.6,0.7,0.8,0.9,1,2,3,4,5,6,7,8,9,10], "labels": false, "title": null,
                 "tickSize": {"condition": {"test": "datum.value==0.01||datum.value==0.1||datum.value==1||datum.value==10", "value": -9}, "value": -4.5}}},
  "color": {"field": "s", "type": "nominal", "scale": {"domain": ["q", "m", "l"], "range": ["#000000", "#ff3318", "#1d3cff"]}, "legend": null},
  "strokeWidth": {"field": "s", "type": "nominal", "scale": {"domain": ["q", "m", "l"], "range": [3, 4, 4]}, "legend": null}}},
{"data": {"name": "spec"},
 "mark": {"type": "rule", "strokeWidth": 2.5, "clip": true},
 "encoding": {
  "x": {"field": "lo", "type": "quantitative", "scale": {"type": "log", "domain": [2.83, 25.6], "nice": false}, "axis": null},
  "x2": {"field": "hi"},
  "y": {"field": "d", "type": "quantitative", "scale": {"type": "log", "domain": [0.01, 10.8], "nice": false}, "axis": null},
  "color": {"field": "s", "type": "nominal", "scale": {"domain": ["q", "m", "l"], "range": ["#000000", "#ff3318", "#1d3cff"]}, "legend": null}}},
{"data": {"name": "spec"},
 "mark": {"type": "rule", "strokeWidth": 2.5, "clip": true},
 "encoding": {
  "x": {"field": "E", "type": "quantitative", "scale": {"type": "log", "domain": [2.83, 25.6], "nice": false}, "axis": null},
  "y": {"field": "dl", "type": "quantitative", "scale": {"type": "log", "domain": [0.01, 10.8], "nice": false}, "axis": null},
  "y2": {"field": "dh"},
  "color": {"field": "s", "type": "nominal", "scale": {"domain": ["q", "m", "l"], "range": ["#000000", "#ff3318", "#1d3cff"]}, "legend": null}}},
{"data": {"name": "leg2"},
 "mark": {"type": "text", "align": "left", "baseline": "middle", "font": "Liberation Serif, Times New Roman, DejaVu Serif, serif", "fontSize": 20},
 "encoding": {
  "x": {"field": "E", "type": "quantitative", "scale": {"type": "log", "domain": [2.83, 25.6], "nice": false},
        "axis": {"orient": "bottom", "values": [5, 10, 20], "ticks": false, "format": "~g", "labelPadding": 3, "labelFlush": false, "labelOverlap": false, "title": "Energy (keV)", "titlePadding": 4}},
  "y": {"field": "v", "type": "quantitative", "scale": {"type": "log", "domain": [0.01, 10.8], "nice": false},
        "axis": {"orient": "left", "values": [0.01, 0.1, 1, 10], "ticks": false, "format": "~g", "labelAngle": -90, "labelAlign": "center", "labelBaseline": "bottom", "labelPadding": 5.5, "labelFlush": false, "labelOverlap": false, "title": "keV² (Photons cm⁻² s⁻¹ keV⁻¹)", "titlePadding": 24.5, "titleY": 237}},
  "text": {"field": "t"},
  "color": {"field": "s", "type": "nominal", "scale": {"domain": ["q", "m", "l"], "range": ["#000000", "#ff3318", "#1d3cff"]}, "legend": null}}}
]
}
]
}
